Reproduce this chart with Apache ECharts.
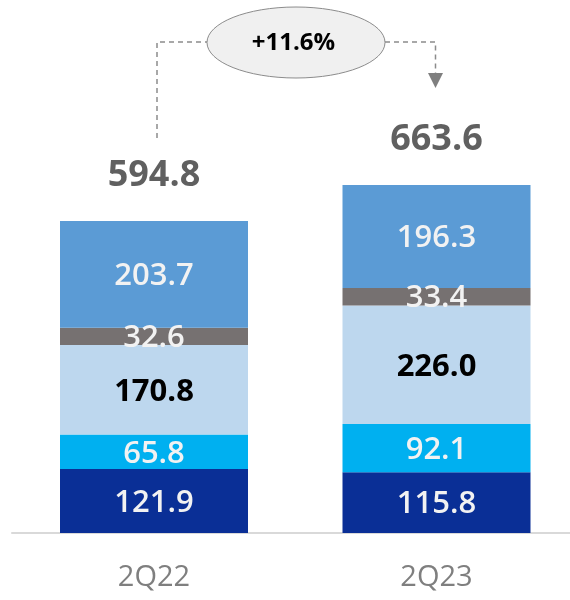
<!DOCTYPE html>
<html>
<head>
<meta charset="utf-8">
<script src="https://cdn.jsdelivr.net/npm/echarts@6/dist/echarts.min.js"></script>
<style>
  html, body { margin: 0; padding: 0; background: #ffffff; }
  #chart { width: 570px; height: 600px; }
</style>
</head>
<body>
<div id="chart"></div>
<script>
// ---- Data ----
const categories = ['2Q22', '2Q23'];
const seriesNames = ['s1', 's2', 's3', 's4', 's5'];
const seg1 = [121.9, 115.8];   // bottom, navy
const seg2 = [65.8, 92.1];     // cyan
const seg3 = [170.8, 226.0];   // light blue
const seg4 = [32.6, 33.4];     // gray
const seg5 = [203.7, 196.3];   // top, medium blue
const totals = [594.8, 663.6];
const growthLabel = '+11.6%';

// ---- Styles ----
const colors = ['#0A2F96', '#00B0F0', '#BDD7EE', '#767171', '#5B9BD5'];
const labelColors = ['#F2F2F2', '#F2F2F2', '#000000', '#F2F2F2', '#F2F2F2'];
const segData = [seg1, seg2, seg3, seg4, seg5];
const FONT = '"Open Sans", "Noto Sans", sans-serif';

// category positions on a numeric x axis (index of category)
const pos = categories.map((c, i) => i);
// rows are [value, categoryPosition]; encode maps column 0 -> y, column 1 -> x
const toRows = arr => arr.map((v, i) => [v, pos[i]]);

const chart = echarts.init(document.getElementById('chart'), null, { renderer: 'canvas' });

const series = segData.map((d, i) => ({
  name: seriesNames[i],
  type: 'bar',
  stack: 'total',
  barWidth: 188,
  data: toRows(d),
  encode: { x: 1, y: 0 },
  itemStyle: { color: colors[i] },
  label: {
    show: true,
    position: 'inside',
    offset: [0, 2],
    formatter: p => p.value[0].toFixed(1),
    color: labelColors[i],
    fontFamily: FONT,
    fontWeight: i === 2 ? 700 : 600,
    fontSize: 31
  },
  z: 2
}));

series.push({
  name: 'total',
  type: 'scatter',
  data: toRows(totals),
  encode: { x: 1, y: 0 },
  symbolSize: 0,
  silent: true,
  label: {
    show: true,
    position: 'top',
    distance: 27,
    formatter: p => p.value[0].toFixed(1),
    color: '#383838',
    fontFamily: FONT,
    fontWeight: 700,
    fontSize: 36
  },
  z: 3
});

// grid spans 12 -> 570 px; category 0 at x=154, category 1 at x=436.5
const gridLeft = 12, gridRight = 0;
const pxPerCat = 282.5;
const xMin = -(154 - gridLeft) / pxPerCat;
const xMax = xMin + (570 - gridLeft - gridRight) / pxPerCat;

chart.setOption({
  animation: false,
  backgroundColor: '#ffffff',
  grid: { left: gridLeft, right: gridRight, top: 113.4, bottom: 67, containLabel: false },
  xAxis: {
    type: 'value',
    min: xMin,
    max: xMax,
    splitLine: { show: false },
    axisLine: { show: true, onZero: false, lineStyle: { color: '#D9D9D9', width: 2 } },
    axisTick: { show: false },
    axisLabel: {
      customValues: pos,
      formatter: v => categories[Math.round(v)],
      color: '#7F7F7F',
      fontFamily: FONT,
      fontSize: 29,
      margin: 30
    }
  },
  yAxis: {
    type: 'value',
    min: 0,
    max: 800,
    show: false,
    splitLine: { show: false }
  },
  series: series
});

// ---- Growth annotation (dashed connector + ellipse) ----
const xL = chart.convertToPixel({ xAxisIndex: 0 }, pos[0]) + 3;
const xR = chart.convertToPixel({ xAxisIndex: 0 }, pos[1]) - 1;
const yLine = 42;
const cx = 296, cy = 42.5, rx = 89, ry = 35.5;
const dashStyle = { stroke: '#8C8C8C', lineWidth: 1.5, lineDash: [5, 4], fill: null };

chart.setOption({
  graphic: [
    { type: 'polyline', shape: { points: [[xL, 138], [xL, yLine], [cx - rx, yLine]] }, style: dashStyle, z: 10 },
    { type: 'polyline', shape: { points: [[cx + rx, yLine], [xR, yLine], [xR, 73]] }, style: dashStyle, z: 10 },
    { type: 'polygon', shape: { points: [[xR - 7.5, 73], [xR + 7.5, 73], [xR, 88]] }, style: { fill: '#7F7F7F' }, z: 10 },
    { type: 'ellipse', shape: { cx: cx, cy: cy, rx: rx, ry: ry }, style: { fill: '#F0F0F0', stroke: '#8C8C8C', lineWidth: 1 }, z: 11 },
    { type: 'text', x: cx - 2.5, y: cy + 1, style: { text: growthLabel, fill: '#000000', font: '700 24px ' + FONT, align: 'center', verticalAlign: 'middle' }, z: 12 }
  ]
});
</script>
</body>
</html>
